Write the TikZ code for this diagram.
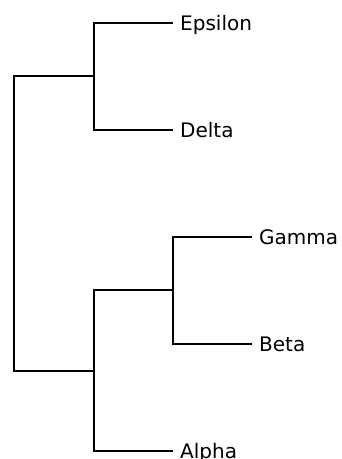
\documentclass[tikz,border=0pt]{standalone}
\usepackage{fontspec}
\setmainfont{DejaVu Sans}
\begin{document}
\begin{tikzpicture}[x=1pt,y=-1pt,
  leaf/.style={anchor=west,inner xsep=7pt,inner ysep=0pt,text height=14.6pt,text depth=0pt,font=\fontsize{20}{24}\selectfont},
  branch/.style={line width=1.4pt,line join=miter,black}]
\useasboundingbox (0,0) rectangle (342,459);
\node[leaf] (E) at (173,23) {Epsilon};
\node[leaf] (D) at (173,130) {Delta};
\node[leaf] (G) at (252,237) {Gamma};
\node[leaf] (B) at (252,344) {Beta};
\node[leaf] (A) at (173,451) {Alpha};
\coordinate (c1) at (94,76);
\coordinate (c3) at (173,290);
\coordinate (c2) at (94,371);
\coordinate (r) at (14,224);
\draw[branch] (E.west) -| (c1) |- (D.west);
\draw[branch] (G.west) -| (c3) |- (B.west);
\draw[branch] (c3) -| (c2) |- (A.west);
\draw[branch] (c1) -| (r) |- (c2);
\end{tikzpicture}
\end{document}
